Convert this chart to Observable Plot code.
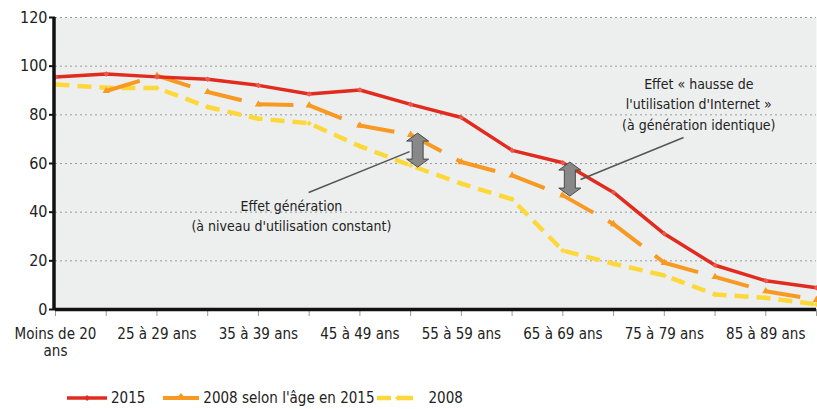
<!DOCTYPE html>
<html><head><meta charset="utf-8">
<script src="https://cdn.jsdelivr.net/npm/d3@7"></script>
<script src="https://cdn.jsdelivr.net/npm/@observablehq/plot@0.6"></script>
<style>
body{margin:0;background:#fff;font-family:'Liberation Sans Narrow','Arial Narrow','DejaVu Sans Condensed',sans-serif;}
#legend{position:relative;width:817px;height:29px;font-size:15px;color:#222}
#legend .row{position:absolute;left:67px;top:8px;height:20px;display:flex;align-items:center;white-space:nowrap}
#legend .it{display:flex;align-items:center;margin-right:14px}
#legend svg{display:block;margin-right:4px}
</style></head><body>
<div id="chart"></div>
<div id="legend"><div class="row" id="legendRow"></div></div>
<script>
const ageGroups = ["Moins de 20 ans","20 à 24 ans","25 à 29 ans","30 à 34 ans","35 à 39 ans","40 à 44 ans","45 à 49 ans","50 à 54 ans","55 à 59 ans","60 à 64 ans","65 à 69 ans","70 à 74 ans","75 à 79 ans","80 à 84 ans","85 à 89 ans","90 ans ou plus"];
const tickLabels = ["Moins de 20\nans","","25 à 29 ans","","35 à 39 ans","","45 à 49 ans","","55 à 59 ans","","65 à 69 ans","","75 à 79 ans","","85 à 89 ans",""];
const yTicks = [0,20,40,60,80,100,120];
const v2015 = [95.5,96.8,95.6,94.6,92.1,88.6,90.2,84.3,78.9,65.4,60.3,48.1,31.1,18.2,11.8,8.9];
const v2008Shifted = [null,89.8,96.1,89.4,84.3,83.9,75.6,71.8,60.6,55.1,46.9,35.1,19.2,13.4,7.5,4.0];
const v2008 = [92.5,91.1,91.0,83.2,78.4,76.5,67.1,59.2,51.7,45.3,24.2,18.8,14.0,6.2,4.8,2.1];
const seriesNames = ["2015","2008 selon l'âge en 2015","2008"];
const colors = ["#e12b1f","#f89a22","#fdd83a"];

// annotations
const annotTexts = ["Effet génération\n(à niveau d'utilisation constant)","Effet « hausse de\nl'utilisation d'Internet »\n(à génération identique)"];
const annotX = [4.65, 12.68];
const annotY = [39, 84.9];
const leaderFrom = [[4.99,48.1],[12.38,70.7]];
const leaderTo = [[6.98,64.9],[10.35,53.4]];
const arrowIdx = [7, 10];
const arrowTop = [v2008Shifted[7], v2015[10]];
const arrowBottom = [v2008[7], v2008Shifted[10]];

const idx = d3.range(ageGroups.length);
const rows = (vals) => idx.filter(i => vals[i] != null).map(i => ({i, v: vals[i]}));
const segs = (vals) => idx.slice(0,-1).filter(i => vals[i] != null && vals[i+1] != null)
  .map(i => ({x1: i, y1: vals[i], x2: i+1, y2: vals[i+1]}));

const doubleArrow = {
  draw(ctx) {
    const h = 17, hh = 8, hw = 11, sw = 5.5;
    ctx.moveTo(0,-h); ctx.lineTo(hw,-h+hh); ctx.lineTo(sw,-h+hh); ctx.lineTo(sw,h-hh);
    ctx.lineTo(hw,h-hh); ctx.lineTo(0,h); ctx.lineTo(-hw,h-hh); ctx.lineTo(-sw,h-hh);
    ctx.lineTo(-sw,-h+hh); ctx.lineTo(-hw,-h+hh); ctx.closePath();
  }
};

const chart = Plot.plot({
  width: 817, height: 380,
  marginTop: 17, marginBottom: 71, marginLeft: 55, marginRight: 1,
  style: {fontFamily: "'Liberation Sans Narrow','Arial Narrow','DejaVu Sans Condensed',sans-serif", fontSize: "15px", color: "#222", background: "transparent"},
  x: {domain: [0, 15], label: null},
  y: {domain: [0, 120], label: null},
  marks: [
    Plot.frame({fill: "#edefef", stroke: null}),
    Plot.ruleY(yTicks.slice(1), {stroke: "#9a9a9a", strokeDasharray: "2,3", strokeWidth: 1}),
    Plot.axisX({ticks: idx, tickFormat: i => tickLabels[i], tickSize: 7, tickPadding: 10, stroke: "#999", fill: "#222", fontSize: 15, label: null, lineHeight: 1.15}),
    Plot.axisY({ticks: yTicks, tickSize: 6, tickPadding: 2, stroke: "#111", strokeWidth: 2, fontSize: 16, label: null}),
    // 2008
    Plot.line(rows(v2008), {x: "i", y: "v", stroke: colors[2], strokeWidth: 4.5, strokeDasharray: "14,8", strokeLinecap: "butt"}),
    Plot.dot(rows(v2008), {x: "i", y: "v", symbol: "diamond2", r: 2.5, fill: colors[2], stroke: null}),
    // 2008 selon l'âge en 2015
    Plot.link(segs(v2008Shifted), {x1: "x1", y1: "y1", x2: "x2", y2: "y2", stroke: colors[1], strokeWidth: 4, strokeDasharray: "35,17", strokeLinecap: "butt"}),
    Plot.dot(rows(v2008Shifted), {x: "i", y: "v", symbol: "triangle2", r: 3.5, fill: colors[1], stroke: null}),
    // 2015
    Plot.line(rows(v2015), {x: "i", y: "v", stroke: colors[0], strokeWidth: 3.5}),
    Plot.dot(rows(v2015), {x: "i", y: "v", symbol: "diamond2", r: 2.5, fill: "#e85a50", stroke: null}),
    // axes lines
    Plot.ruleY([0], {stroke: "#111", strokeWidth: 3.5}),
    Plot.ruleX([0], {stroke: "#111", strokeWidth: 3.5, dx: -1.5}),
    // annotations
    Plot.link([0,1], {x1: j => leaderFrom[j][0], y1: j => leaderFrom[j][1], x2: j => leaderTo[j][0], y2: j => leaderTo[j][1], stroke: "#555", strokeWidth: 1.5}),
    Plot.dot([0,1], {x: j => arrowIdx[j], y: j => (arrowTop[j] + arrowBottom[j]) / 2, dx: 7, symbol: doubleArrow, r: 1, fill: "#878887", stroke: "#4a4a4a", strokeWidth: 1}),
    Plot.text([0,1], {x: j => annotX[j], y: j => annotY[j], text: j => annotTexts[j], fontSize: 14, lineHeight: 1.45, fill: "#222", textAnchor: "middle"})
  ]
});
document.getElementById("chart").appendChild(chart);

// legend
const swatchW = [40, 36, 42];
const row = document.getElementById("legendRow");
seriesNames.forEach((name, k) => {
  const w = swatchW[k];
  const c = colors[k];
  const it = document.createElement("div");
  it.className = "it";
  let line, mark;
  if (k === 0) {
    line = `<line x1="0" y1="10" x2="${w}" y2="10" stroke="${c}" stroke-width="3.5"/>`;
    mark = `<path d="M${w/2},7 L${w/2+3},10 L${w/2},13 L${w/2-3},10Z" fill="${c}"/>`;
  } else if (k === 1) {
    line = `<line x1="0" y1="10" x2="${w}" y2="10" stroke="${c}" stroke-width="4"/>`;
    mark = `<path d="M${w/2},5 L${w/2+5},11 L${w/2-5},11Z" fill="${c}"/>`;
  } else {
    line = `<line x1="0" y1="10" x2="${w}" y2="10" stroke="${c}" stroke-width="4.5" stroke-dasharray="14,8"/>`;
    mark = `<path d="M${w/2},7 L${w/2+3},10 L${w/2},13 L${w/2-3},10Z" fill="${c}"/>`;
  }
  it.innerHTML = `<svg width="${w}" height="20">${line}${mark}</svg><span${k === 2 ? ' style="margin-left:6px"' : ''}>${name}</span>`;
  if (k === 0) it.style.marginRight = "18px";
  if (k === 1) it.style.marginRight = "2px";
  row.appendChild(it);
});
</script>
</body></html>
